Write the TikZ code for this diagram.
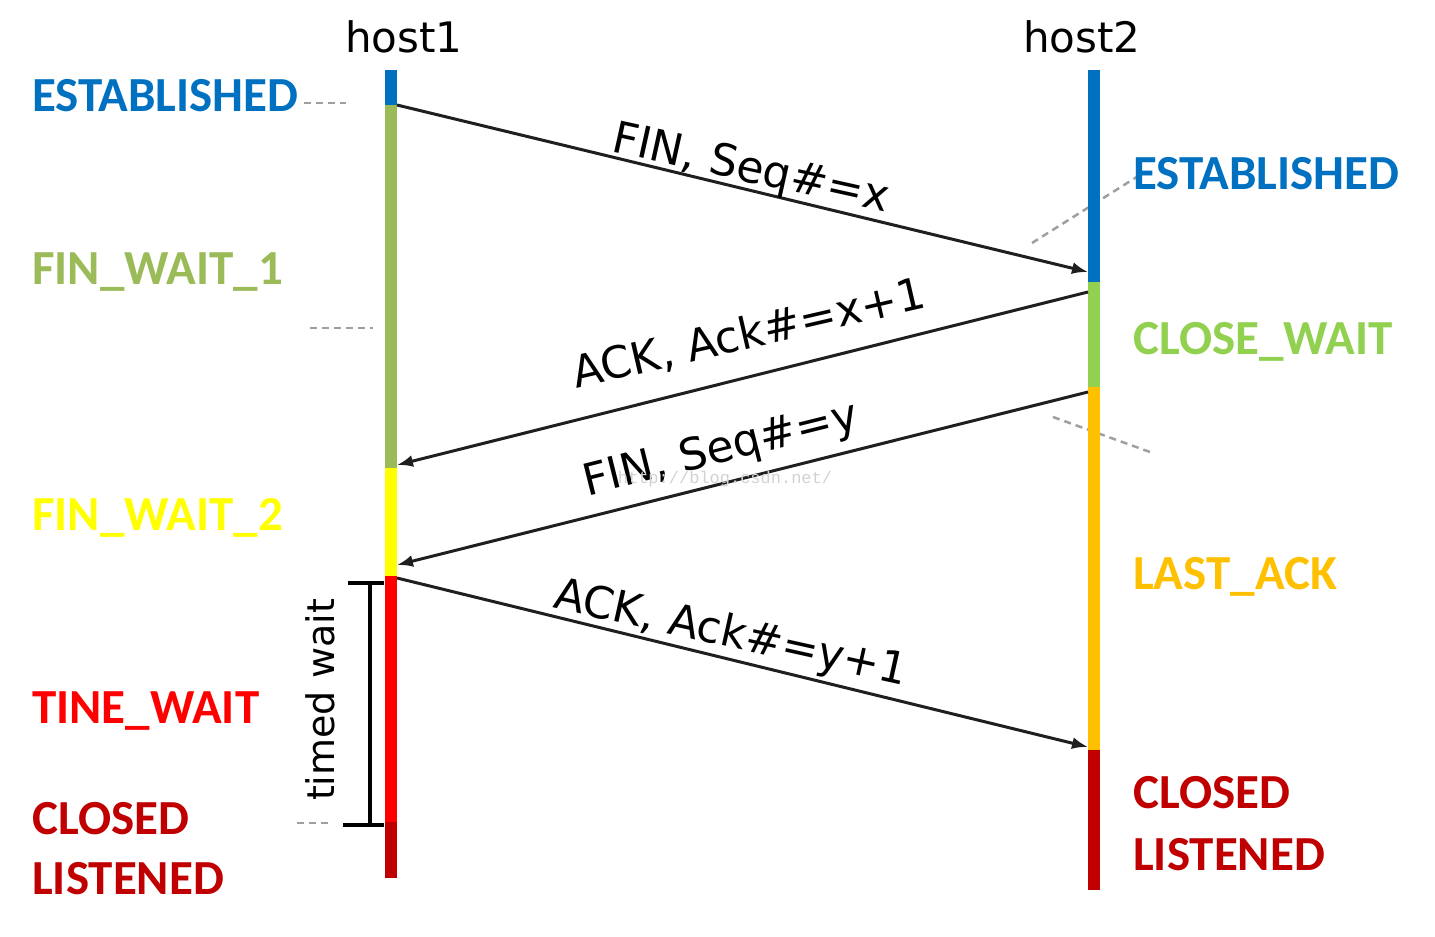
\documentclass[tikz,border=0pt]{standalone}
\usepackage{fontspec}
\setmainfont{Carlito}
\newfontfamily\handfont{DejaVu Sans}
\newfontfamily\wmfont{Liberation Mono}
\usetikzlibrary{arrows.meta}
\definecolor{cBlue}{HTML}{0070C0}
\definecolor{cOlive}{HTML}{9BBB59}
\definecolor{cLime}{HTML}{92D050}
\definecolor{cYellow}{HTML}{FFFF00}
\definecolor{cRed}{HTML}{FF0000}
\definecolor{cDark}{HTML}{C00000}
\definecolor{cOrange}{HTML}{FFC000}
\newcommand\stfont{\fontsize{49}{49}\selectfont\bfseries}
\begin{document}
\begin{tikzpicture}[x=1pt,y=-1pt,
  bar/.style={line width=12pt},
  state/.style={font=\stfont, anchor=base west, inner sep=0pt},
  msg/.style={-{Latex[length=16pt,width=12pt]}, line width=3pt, draw=black!88},
  msglabel/.style={font=\handfont\fontsize{44}{44}\selectfont, anchor=base, inner sep=0pt},
  leader/.style={draw=gray!75, line width=2.5pt, dash pattern=on 7pt off 5pt},
  hostlabel/.style={font=\handfont\fontsize{42}{42}\selectfont, anchor=base, inner sep=0pt}]
\path[use as bounding box, fill=white] (0,0) rectangle (1435,937);

% host labels
\node[hostlabel] (host1) at (404,52) {host1};
\node[hostlabel] (host2) at (1082,52) {host2};

% leader lines
\coordinate (l1a) at (304,103); \coordinate (l1b) at (346,103);
\coordinate (l2a) at (310,328); \coordinate (l2b) at (373,328);
\coordinate (l3a) at (1032,243); \coordinate (l3b) at (1143,173);
\coordinate (l4a) at (1053,417); \coordinate (l4b) at (1150,452);
\coordinate (l5a) at (297,823); \coordinate (l5b) at (332,823);
\draw[leader] (l1a) -- (l1b);
\draw[leader] (l2a) -- (l2b);
\draw[leader] (l3a) -- (l3b);
\draw[leader] (l4a) -- (l4b);
\draw[leader] (l5a) -- (l5b);

% host1 timeline
\coordinate (a0) at (391,70);
\coordinate (a1) at (391,105);
\coordinate (a2) at (391,468);
\coordinate (a3) at (391,576);
\coordinate (a4) at (391,822);
\coordinate (a5) at (391,878);
\draw[bar, cBlue] (a0) -- (a1);
\draw[bar, cOlive] (a1) -- (a2);
\draw[bar, cYellow] (a2) -- (a3);
\draw[bar, cRed] (a3) -- (a4);
\draw[bar, cDark] (a4) -- (a5);

% host2 timeline
\coordinate (b0) at (1094,70);
\coordinate (b1) at (1094,282);
\coordinate (b2) at (1094,387);
\coordinate (b3) at (1094,750);
\coordinate (b4) at (1094,890);
\draw[bar, cBlue] (b0) -- (b1);
\draw[bar, cLime] (b1) -- (b2);
\draw[bar, cOrange] (b2) -- (b3);
\draw[bar, cDark] (b3) -- (b4);

% messages
\coordinate (m1s) at (397,105); \coordinate (m1e) at (1088,272);
\coordinate (m2s) at (1088,292); \coordinate (m2e) at (397,465);
\coordinate (m3s) at (1088,392); \coordinate (m3e) at (397,565);
\coordinate (m4s) at (397,578); \coordinate (m4e) at (1088,747);
\draw[msg] (m1s) -- (m1e);
\draw[msg] (m2s) -- (m2e);
\draw[msg] (m3s) -- (m3e);
\draw[msg] (m4s) -- (m4e);

\node[msglabel, rotate=-12.5] (t1) at (748,182) {FIN, Seq\#=x};
\node[msglabel, rotate=13] (t2) at (752,348) {ACK, Ack\#=x+1};
\node[msglabel, rotate=14] (t3) at (724,462) {FIN, Seq\#=y};
\node[msglabel, rotate=-12.5] (t4) at (728,647) {ACK, Ack\#=y+1};

% watermark
\node[font=\wmfont\fontsize{17}{17}\selectfont, text=gray!35, inner sep=0pt] (wm) at (725,479) {http://blog.csdn.net/};

% timed wait bracket
\coordinate (w1l) at (348,583); \coordinate (w1r) at (384,583); \coordinate (w1m) at (370,583);
\coordinate (w2l) at (343,825); \coordinate (w2r) at (384,825); \coordinate (w2m) at (370,825);
\draw[line width=3.6pt] (w1l) -- (w1r);
\draw[line width=3.6pt] (w2l) -- (w2r);
\draw[line width=3.6pt] (w1m) -- (w2m);
\node[font=\handfont\fontsize{38}{38}\selectfont, rotate=90, inner sep=0pt] (tw) at (320,700) {timed wait};

% state labels, left
\node[state, text=cBlue] (sE1) at (32,111) {ESTABLISHED};
\node[state, text=cOlive] (sF1) at (32,284) {FIN\_WAIT\_1};
\node[state, text=cYellow] (sF2) at (32,530) {FIN\_WAIT\_2};
\node[state, text=cRed] (sT) at (32,723) {TINE\_WAIT};
\node[state, text=cDark] (sC1) at (32,834) {CLOSED};
\node[state, text=cDark] (sL1) at (32,894) {LISTENED};

% state labels, right
\node[state, text=cBlue] (sE2) at (1133,189) {ESTABLISHED};
\node[state, text=cLime] (sCW) at (1133,354) {CLOSE\_WAIT};
\node[state, text=cOrange] (sLA) at (1133,589) {LAST\_ACK};
\node[state, text=cDark] (sC2) at (1133,808) {CLOSED};
\node[state, text=cDark] (sL2) at (1133,870) {LISTENED};
\end{tikzpicture}
\end{document}
